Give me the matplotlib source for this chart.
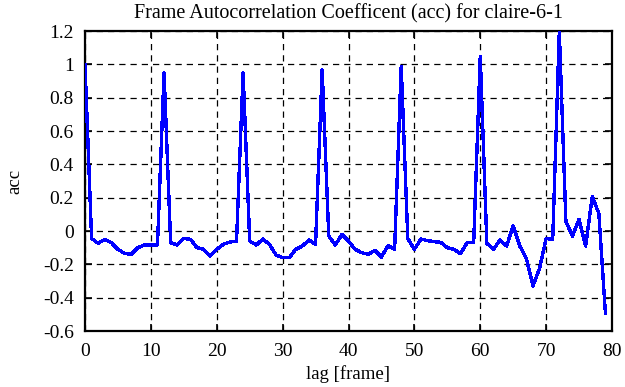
import numpy as np
import matplotlib
matplotlib.use('Agg')
import matplotlib.pyplot as plt

# autocorrelation values, lag 0..79
lags = np.arange(80)
acc = [1.00, -0.045, -0.074, -0.05, -0.07, -0.11, -0.134, -0.14, -0.10, -0.084,
       -0.084, -0.084, 0.95, -0.07, -0.084, -0.045, -0.05, -0.10, -0.11, -0.15,
       -0.11, -0.08, -0.066, -0.062, 0.95, -0.06, -0.084, -0.048, -0.08, -0.144,
       -0.16, -0.16, -0.11, -0.09, -0.054, -0.08, 0.966, -0.03, -0.084, -0.02,
       -0.06, -0.11, -0.13, -0.14, -0.116, -0.156, -0.088, -0.11, 0.986, -0.045,
       -0.11, -0.048, -0.058, -0.064, -0.068, -0.10, -0.11, -0.136, -0.07, -0.07,
       1.046, -0.074, -0.11, -0.054, -0.09, 0.03, -0.09, -0.164, -0.33, -0.224,
       -0.045, -0.05, 1.196, 0.056, -0.03, 0.07, -0.09, 0.206, 0.106, -0.494]

xticks = np.arange(0, 81, 10)
yticks = np.round(np.arange(-0.6, 1.21, 0.2), 1)
ytick_labels = ['-0.6', '-0.4', '-0.2', '0', '0.2', '0.4', '0.6', '0.8', '1', '1.2']

plt.rcParams['font.family'] = ['Liberation Serif', 'DejaVu Serif']
plt.rcParams['font.size'] = 14

fig = plt.figure(figsize=(6.25, 3.87), dpi=100)
ax = fig.add_axes([85/625, 1 - 331/387, (612 - 85)/625, (331 - 31)/387])

ax.plot(lags, acc, color='#0000ff', lw=1.7, antialiased=False, zorder=3)

ax.set_xlim(0, 80)
ax.set_ylim(-0.6, 1.2)
ax.set_xticks(xticks)
ax.set_yticks(yticks)
ax.set_yticklabels(ytick_labels)
ax.grid(True, color='black', linestyle=(0, (5, 4)), lw=0.9)
ax.tick_params(direction='in', top=True, right=True, length=5, width=1.2)
ax.tick_params(axis='x', pad=9)
ax.tick_params(axis='y', pad=8)
for s in ax.spines.values():
    s.set_linewidth(1.6)

ax.set_xlabel('lag [frame]', fontsize=13.5, labelpad=3)
ax.set_ylabel('acc', fontsize=13.5, labelpad=14)
ax.set_title('Frame Autocorrelation Coefficent (acc) for claire-6-1', fontsize=14.5, pad=9)

fig.savefig('out.png', dpi=100)
